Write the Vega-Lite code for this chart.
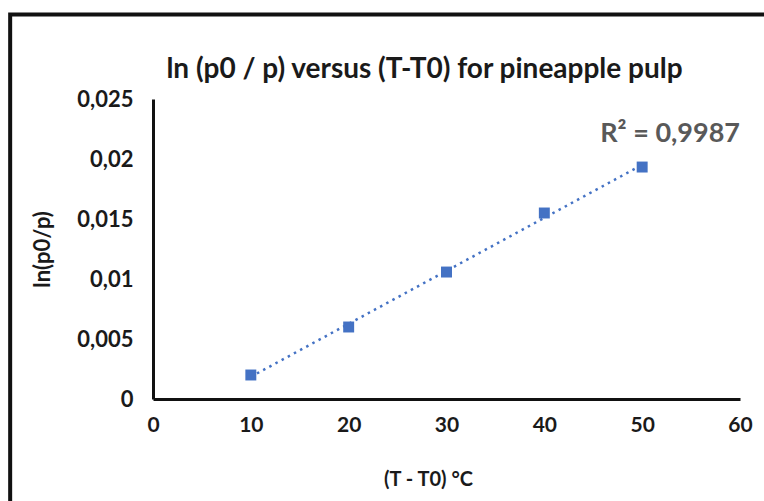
{
  "$schema": "https://vega.github.io/schema/vega-lite/v6.json",
  "width": 587,
  "height": 300,
  "autosize": {"type": "none"},
  "padding": {"left": 153, "top": 99, "right": 24, "bottom": 102},
  "background": "white",
  "config": {
    "view": {"stroke": null},
    "font": "Lato"
  },
  "title": {
    "text": "ln (p0 / p) versus (T-T0) for pineapple pulp",
    "fontSize": 28,
    "fontWeight": "bold",
    "font": "Lato",
    "color": "#1a1a1a",
    "anchor": "middle",
    "baseline": "alphabetic",
    "offset": 0,
    "dy": 93,
    "dx": -22
  },
  "datasets": {
    "pts": [
      {"dT": 10, "lnp": 0.0020},
      {"dT": 20, "lnp": 0.0060},
      {"dT": 30, "lnp": 0.01058},
      {"dT": 40, "lnp": 0.0155},
      {"dT": 50, "lnp": 0.01933}
    ],
    "ann": [
      {"label": "R² = 0,9987"}
    ]
  },
  "layer": [
    {
      "data": {"name": "ann"},
      "mark": {"type": "rect", "fill": null, "stroke": "#111111", "strokeWidth": 4, "clip": false},
      "encoding": {
        "x": {"datum": -14.6, "type": "quantitative", "scale": {"domain": [0, 60], "nice": false}},
        "x2": {"datum": 80},
        "y": {"datum": 0.03204, "type": "quantitative", "scale": {"domain": [0, 0.025], "nice": false}},
        "y2": {"datum": -0.03}
      }
    },
    {
      "data": {"name": "pts"},
      "transform": [
        {"regression": "lnp", "on": "dT", "method": "linear", "extent": [10, 50]}
      ],
      "mark": {"type": "line", "color": "#4472C4", "strokeWidth": 2.5, "strokeDash": [2.5, 4.5], "clip": false},
      "encoding": {
        "x": {"field": "dT", "type": "quantitative"},
        "y": {"field": "lnp", "type": "quantitative"}
      }
    },
    {
      "data": {"name": "pts"},
      "mark": {"type": "point", "shape": "square", "filled": true, "size": 120, "color": "#4472C4", "opacity": 1},
      "encoding": {
        "x": {
          "field": "dT",
          "type": "quantitative",
          "scale": {"domain": [0, 60], "nice": false},
          "axis": {
            "title": "(T - T0) °C",
            "values": [0, 10, 20, 30, 40, 50, 60],
            "grid": false,
            "ticks": false,
            "domainColor": "#111111",
            "domainWidth": 3,
            "labelFont": "Lato",
            "labelFontSize": 21,
            "labelFontWeight": "bold",
            "labelColor": "#1a1a1a",
            "labelPadding": 15,
            "labelFlush": false,
            "titleFont": "Lato",
            "titleFontSize": 20,
            "titleFontWeight": "bold",
            "titleColor": "#1a1a1a",
            "titlePadding": 34,
            "titleX": 275
          }
        },
        "y": {
          "field": "lnp",
          "type": "quantitative",
          "scale": {"domain": [0, 0.025], "nice": false},
          "axis": {
            "title": "ln(p0/p)",
            "values": [0, 0.005, 0.01, 0.015, 0.02, 0.025],
            "labelExpr": "replace(format(datum.value, '~g'), '.', ',')",
            "grid": false,
            "ticks": false,
            "domainColor": "#111111",
            "domainWidth": 3,
            "labelFont": "Lato",
            "labelFontSize": 22,
            "labelFontWeight": "bold",
            "labelColor": "#1a1a1a",
            "labelPadding": 20,
            "labelFlush": false,
            "titleFont": "Lato",
            "titleFontSize": 22,
            "titleFontWeight": "bold",
            "titleColor": "#1a1a1a",
            "titlePadding": 22
          }
        }
      }
    },
    {
      "data": {"name": "ann"},
      "mark": {"type": "text", "align": "right", "baseline": "middle", "font": "Lato", "fontSize": 27, "fontWeight": "bold", "color": "#595959"},
      "encoding": {
        "x": {"datum": 60, "type": "quantitative"},
        "y": {"datum": 0.02205, "type": "quantitative"},
        "text": {"field": "label"}
      }
    }
  ]
}
